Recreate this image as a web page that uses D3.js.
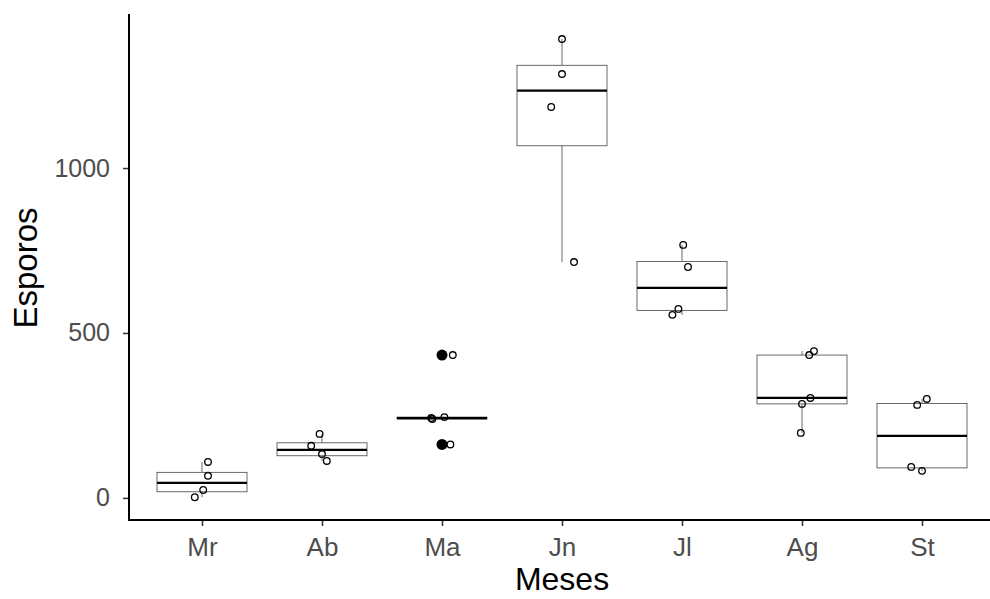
<!DOCTYPE html>
<html>
<head>
<meta charset="utf-8">
<script src="https://cdn.jsdelivr.net/npm/d3@7"></script>
<style>
  body { margin: 0; background: #fff; }
  svg { display: block; font-family: "Liberation Sans", Arial, sans-serif; }
</style>
</head>
<body>
<svg id="chart"></svg>
<script>
// months on the x axis
var months = ["Mr", "Ab", "Ma", "Jn", "Jl", "Ag", "St"];

// spore counts per month, as read from the points
var esporos = [
  [109, 67, 24, 2],
  [194, 158, 133, 112],
  [433, 245, 239, 242, 162],
  [1391, 1285, 1185, 715],
  [767, 700, 573, 555],
  [445, 433, 303, 285, 197],
  [300, 282, 94, 82]
];

// horizontal jitter of each point, in category widths
var jitter = [
  [0.05, 0.05, 0.01, -0.06],
  [-0.02, -0.09, 0.0, 0.04],
  [0.09, 0.02, -0.08, -0.09, 0.07],
  [0.0, 0.0, -0.09, 0.1],
  [0.01, 0.05, -0.03, -0.08],
  [0.1, 0.06, 0.07, 0.0, -0.01],
  [0.04, -0.04, -0.09, 0.0]
];

var yTicks = [0, 500, 1000];

var W = 990,
    H = 599,
    panelLeft = 129,
    panelBottom = 520,
    panelTop = 14;

var svg = d3.select("#chart")
  .attr("width", W)
  .attr("height", H);

var x = d3.scalePoint()
  .domain(months)
  .range([130, 994])
  .padding(0.6);

var y = d3.scaleLinear()
  .domain([-67, 1467])
  .range([panelBottom, panelTop]);

var boxW = x.step() * 0.75;

function stats(values) {
  var v = values.slice().sort(d3.ascending);
  var q1 = d3.quantile(v, 0.25),
      med = d3.quantile(v, 0.5),
      q3 = d3.quantile(v, 0.75),
      iqr = q3 - q1;
  var inside = v.filter(d => d >= q1 - 1.5 * iqr && d <= q3 + 1.5 * iqr);
  return {
    q1: q1, med: med, q3: q3,
    lo: d3.min(inside), hi: d3.max(inside),
    out: v.filter(d => d < q1 - 1.5 * iqr || d > q3 + 1.5 * iqr)
  };
}

var boxes = months.map((m, i) => Object.assign({ month: m }, stats(esporos[i])));

var g = svg.append("g");

var box = g.selectAll("g.box")
  .data(boxes)
  .join("g")
  .attr("class", "box");

// whiskers
box.append("line")
  .attr("x1", d => x(d.month)).attr("x2", d => x(d.month))
  .attr("y1", d => y(d.q3)).attr("y2", d => y(d.hi))
  .attr("stroke", "#444").attr("stroke-width", 0.8);
box.append("line")
  .attr("x1", d => x(d.month)).attr("x2", d => x(d.month))
  .attr("y1", d => y(d.q1)).attr("y2", d => y(d.lo))
  .attr("stroke", "#444").attr("stroke-width", 0.8);

box.append("rect")
  .attr("x", d => x(d.month) - boxW / 2)
  .attr("width", boxW)
  .attr("y", d => y(d.q3))
  .attr("height", d => Math.max(0.5, y(d.q1) - y(d.q3)))
  .attr("fill", "#fff")
  .attr("stroke", "#444")
  .attr("stroke-width", 0.8);

box.append("line")
  .attr("x1", d => x(d.month) - boxW / 2)
  .attr("x2", d => x(d.month) + boxW / 2)
  .attr("y1", d => y(d.med)).attr("y2", d => y(d.med))
  .attr("stroke", "#000").attr("stroke-width", 2.2);

// outliers from the boxplot
box.selectAll("circle.out")
  .data(d => d.out.map(v => ({ month: d.month, v: v })))
  .join("circle")
  .attr("class", "out")
  .attr("cx", d => x(d.month))
  .attr("cy", d => y(d.v))
  .attr("r", 5.5)
  .attr("fill", "#000");

// jittered raw points
var pts = [];
months.forEach((m, i) => {
  esporos[i].forEach((v, j) => pts.push({ month: m, v: v, dx: jitter[i][j] }));
});

g.selectAll("circle.pt")
  .data(pts)
  .join("circle")
  .attr("class", "pt")
  .attr("cx", d => x(d.month) + d.dx * x.step())
  .attr("cy", d => y(d.v))
  .attr("r", 3.3)
  .attr("fill", "none")
  .attr("stroke", "#000")
  .attr("stroke-width", 1.3);

// axes
var yAxis = svg.append("g")
  .attr("transform", `translate(${panelLeft},0)`)
  .call(d3.axisLeft(y).tickValues(yTicks).tickFormat(d3.format("d"))
    .tickSize(6).tickPadding(13).tickSizeOuter(0));

var xAxis = svg.append("g")
  .attr("transform", `translate(0,${panelBottom})`)
  .call(d3.axisBottom(x).tickSize(6).tickPadding(12).tickSizeOuter(0));

[xAxis, yAxis].forEach(function(a) {
  a.select(".domain").remove();
  a.selectAll(".tick line").attr("stroke", "#333").attr("stroke-width", 1.5);
  a.selectAll(".tick text")
    .attr("fill", "#4d4d4d")
    .style("font-family", "'Liberation Sans', Arial, sans-serif");
});
yAxis.selectAll(".tick text").style("font-size", "25px");
xAxis.selectAll(".tick text").style("font-size", "26px");

svg.append("line")
  .attr("x1", panelLeft).attr("x2", panelLeft)
  .attr("y1", panelTop).attr("y2", panelBottom + 1)
  .attr("stroke", "#000").attr("stroke-width", 2);
svg.append("line")
  .attr("x1", panelLeft - 1).attr("x2", W)
  .attr("y1", panelBottom).attr("y2", panelBottom)
  .attr("stroke", "#000").attr("stroke-width", 2);

svg.append("text")
  .attr("x", 562)
  .attr("y", 590)
  .attr("text-anchor", "middle")
  .style("font-size", "32px")
  .text("Meses");

svg.append("text")
  .attr("transform", "translate(37,268) rotate(-90)")
  .attr("text-anchor", "middle")
  .style("font-size", "33px")
  .text("Esporos");
</script>
</body>
</html>
